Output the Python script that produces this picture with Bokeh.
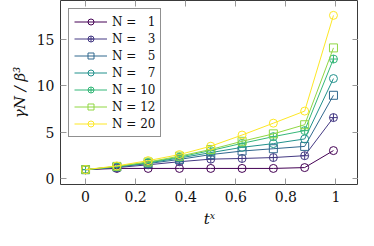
from bokeh.plotting import figure
from bokeh.models import Range1d, LinearAxis, Legend, LegendItem, FixedTicker
from bokeh.embed import file_html
from bokeh.resources import INLINE

t_x = [0, 0.125, 0.25, 0.375, 0.5, 0.625, 0.75, 0.875, 0.99]
n_labels = ["1", "3", "5", "7", "10", "12", "20"]
gamma_n1 = [1.0, 1.13, 1.13, 1.13, 1.13, 1.13, 1.13, 1.22, 3.05]
gamma_n3 = [1.0, 1.22, 1.52, 1.85, 2.13, 2.2, 2.3, 2.5, 6.6]
gamma_n5 = [1.0, 1.28, 1.65, 2.1, 2.62, 3.0, 3.25, 3.5, 9.0]
gamma_n7 = [1.0, 1.3, 1.72, 2.25, 2.83, 3.4, 3.8, 4.3, 10.8]
gamma_n10 = [1.0, 1.33, 1.78, 2.35, 3.05, 3.83, 4.55, 5.2, 12.9]
gamma_n12 = [1.0, 1.35, 1.82, 2.45, 3.17, 4.05, 4.85, 5.83, 14.1]
gamma_n20 = [1.0, 1.4, 1.97, 2.62, 3.52, 4.72, 6.0, 7.3, 17.6]
series = [gamma_n1, gamma_n3, gamma_n5, gamma_n7, gamma_n10, gamma_n12, gamma_n20]

colors = ["#440154", "#443983", "#31688e", "#21918c", "#35b779", "#90d743", "#fde725"]
markers = ["circle", "circle_cross", "square", "circle", "circle_cross", "square", "circle"]

x_ticks = [0, 0.2, 0.4, 0.6, 0.8, 1]
x_tick_labels = ["0", "0.2", "0.4", "0.6", "0.8", "1"]
y_ticks = [0, 5, 10, 15]
x_lo, x_hi = -0.1, 1.09
y_lo, y_hi = -0.6, 19.2

FONT = "DejaVu Serif"

p = figure(width=358, height=230, output_backend="svg", toolbar_location=None,
           x_range=Range1d(x_lo, x_hi), y_range=Range1d(y_lo, y_hi),
           min_border_left=60, min_border_right=0, min_border_top=0, min_border_bottom=40)
p.background_fill_color = "white"
p.border_fill_color = "white"
p.outline_line_color = "#3a3a3a"
p.outline_line_width = 1
p.xgrid.visible = False
p.ygrid.visible = False

items = []
for lab, ys, c, m in zip(n_labels, series, colors, markers):
    r1 = p.line(t_x, ys, line_color=c, line_width=1)
    r2 = p.scatter(t_x, ys, marker=m, size=8, line_color=c, line_width=1, fill_alpha=0)
    pad = "\u2007" if len(lab) == 1 else ""
    items.append(LegendItem(label="N = " + pad + lab, renderers=[r1, r2]))

for ax in p.xaxis:
    ax.ticker = FixedTicker(ticks=x_ticks)
    ax.major_label_overrides = {t: l for t, l in zip(x_ticks, x_tick_labels)}
    ax.axis_label = "tˣ"
for ax in p.yaxis:
    ax.ticker = FixedTicker(ticks=y_ticks)
    ax.axis_label = "γN / β³"

top = LinearAxis(ticker=FixedTicker(ticks=x_ticks),
                 major_label_overrides={t: "" for t in x_ticks})
right = LinearAxis(ticker=FixedTicker(ticks=y_ticks),
                   major_label_overrides={t: "" for t in y_ticks})
p.add_layout(top, "above")
p.add_layout(right, "right")
for ax in [top, right]:
    ax.major_label_standoff = 0
    ax.major_label_text_font_size = "1px"

for ax in p.xaxis + p.yaxis:
    ax.axis_line_color = None
    ax.major_tick_in = 6
    ax.major_tick_out = 0
    ax.major_tick_line_color = "#999999"
    ax.minor_tick_line_color = None

for ax in p.below + p.left:
    if isinstance(ax, LinearAxis):
        ax.major_label_text_font = FONT
        ax.major_label_text_font_size = "14px"
        ax.major_label_text_color = "#111111"
        ax.axis_label_text_font = FONT
        ax.axis_label_text_font_size = "15px"
        ax.axis_label_text_font_style = "italic"
        ax.axis_label_text_color = "#111111"
        ax.major_label_standoff = 6

legend = Legend(items=items, location="top_left")
legend.label_text_font = FONT
legend.label_text_font_size = "12px"
legend.label_text_color = "#111111"
legend.glyph_width = 33
legend.glyph_height = 15
legend.label_height = 15
legend.spacing = 2
legend.padding = 5
legend.margin = 8
legend.label_standoff = 5
legend.border_line_color = "#222222"
legend.border_line_width = 1
legend.background_fill_alpha = 1
p.add_layout(legend)

open("out.html", "w").write(file_html(p, INLINE))
